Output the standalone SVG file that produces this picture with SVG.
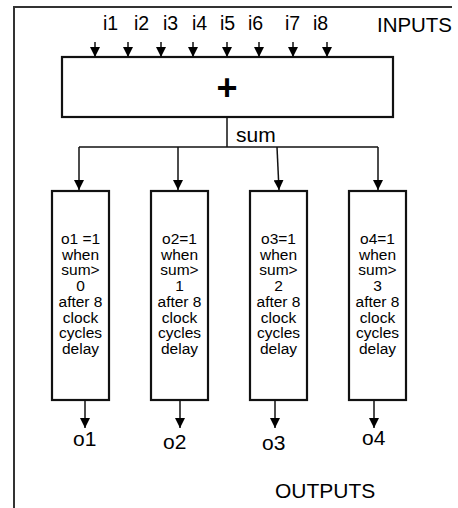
<svg xmlns="http://www.w3.org/2000/svg" width="458" height="508" viewBox="0 0 458 508">
<style>
text{font-family:"Liberation Sans",Arial,sans-serif;fill:#000}
.lbl{font-size:19.5px}
.big{font-size:21px}
.box{fill:#fff;stroke:#111;stroke-width:2.2}
.bt{font-size:15.5px;text-anchor:middle}
.c{stroke:#111;stroke-width:1.5;fill:none}
.frame{stroke:#333;stroke-width:2;fill:none}
</style>
<defs>
<marker id="ah" markerUnits="userSpaceOnUse" markerWidth="10" markerHeight="10" refX="10" refY="5" orient="auto">
<path d="M0,0 L10,5 L0,10 z" fill="#000"/>
</marker>
</defs>
<polyline class="frame" points="14,508 14,7 452,7"/>
<text class="lbl" x="377" y="32" textLength="75" lengthAdjust="spacingAndGlyphs">INPUTS</text>
<text class="lbl" x="103" y="30">i1</text>
<text class="lbl" x="134" y="30">i2</text>
<text class="lbl" x="163" y="30">i3</text>
<text class="lbl" x="192" y="30">i4</text>
<text class="lbl" x="220" y="30">i5</text>
<text class="lbl" x="248" y="30">i6</text>
<text class="lbl" x="285" y="30">i7</text>
<text class="lbl" x="313" y="30">i8</text>
<g id="adder">
<rect class="box" x="62" y="57" width="331" height="60"/>
<text x="227" y="100" font-size="36" font-weight="bold" text-anchor="middle">+</text>
</g>
<g id="cmp1">
<rect class="box" x="52" y="191" width="57" height="209"/>
<text class="bt" y="244"><tspan x="80.5">o1 =1</tspan><tspan x="80.5" dy="15.7">when</tspan><tspan x="80.5" dy="15.7">sum&gt;</tspan><tspan x="80.5" dy="15.7">0</tspan><tspan x="80.5" dy="15.7">after 8</tspan><tspan x="80.5" dy="15.7">clock</tspan><tspan x="80.5" dy="15.7">cycles</tspan><tspan x="80.5" dy="15.7">delay</tspan></text>
</g>
<g id="cmp2">
<rect class="box" x="151" y="191" width="57" height="209"/>
<text class="bt" y="244"><tspan x="179.5">o2=1</tspan><tspan x="179.5" dy="15.7">when</tspan><tspan x="179.5" dy="15.7">sum&gt;</tspan><tspan x="179.5" dy="15.7">1</tspan><tspan x="179.5" dy="15.7">after 8</tspan><tspan x="179.5" dy="15.7">clock</tspan><tspan x="179.5" dy="15.7">cycles</tspan><tspan x="179.5" dy="15.7">delay</tspan></text>
</g>
<g id="cmp3">
<rect class="box" x="250" y="191" width="57" height="209"/>
<text class="bt" y="244"><tspan x="278.5">o3=1</tspan><tspan x="278.5" dy="15.7">when</tspan><tspan x="278.5" dy="15.7">sum&gt;</tspan><tspan x="278.5" dy="15.7">2</tspan><tspan x="278.5" dy="15.7">after 8</tspan><tspan x="278.5" dy="15.7">clock</tspan><tspan x="278.5" dy="15.7">cycles</tspan><tspan x="278.5" dy="15.7">delay</tspan></text>
</g>
<g id="cmp4">
<rect class="box" x="349" y="191" width="57" height="209"/>
<text class="bt" y="244"><tspan x="377.5">o4=1</tspan><tspan x="377.5" dy="15.7">when</tspan><tspan x="377.5" dy="15.7">sum&gt;</tspan><tspan x="377.5" dy="15.7">3</tspan><tspan x="377.5" dy="15.7">after 8</tspan><tspan x="377.5" dy="15.7">clock</tspan><tspan x="377.5" dy="15.7">cycles</tspan><tspan x="377.5" dy="15.7">delay</tspan></text>
</g>
<g id="connectors">
<line class="c" x1="95" y1="42" x2="95" y2="57" marker-end="url(#ah)"/>
<line class="c" x1="128" y1="42" x2="128" y2="57" marker-end="url(#ah)"/>
<line class="c" x1="161" y1="42" x2="161" y2="57" marker-end="url(#ah)"/>
<line class="c" x1="193" y1="42" x2="193" y2="57" marker-end="url(#ah)"/>
<line class="c" x1="227" y1="42" x2="227" y2="57" marker-end="url(#ah)"/>
<line class="c" x1="259" y1="42" x2="259" y2="57" marker-end="url(#ah)"/>
<line class="c" x1="293" y1="42" x2="293" y2="57" marker-end="url(#ah)"/>
<line class="c" x1="327" y1="42" x2="327" y2="57" marker-end="url(#ah)"/>
<line class="c" x1="227" y1="117" x2="227" y2="147"/>
<line class="c" x1="79" y1="147" x2="378" y2="147" stroke-width="1.2"/>
<line class="c" x1="79" y1="147" x2="79" y2="190" stroke-width="2" marker-end="url(#ah)"/>
<line class="c" x1="178" y1="147" x2="178" y2="190" stroke-width="2" marker-end="url(#ah)"/>
<line class="c" x1="277" y1="147" x2="279" y2="190" stroke-width="2" marker-end="url(#ah)"/>
<line class="c" x1="378" y1="147" x2="378" y2="190" stroke="#555" stroke-width="1.2" marker-end="url(#ah)"/>
<line class="c" x1="85" y1="400" x2="85" y2="428" marker-end="url(#ah)"/>
<line class="c" x1="180" y1="400" x2="180" y2="428" marker-end="url(#ah)"/>
<line class="c" x1="275" y1="400" x2="275" y2="428" marker-end="url(#ah)"/>
<line class="c" x1="374" y1="400" x2="374" y2="428" marker-end="url(#ah)"/>
</g>
<text class="big" x="236" y="142">sum</text>
<text class="big" x="73" y="446">o1</text>
<text class="big" x="163" y="449">o2</text>
<text class="big" x="262" y="450">o3</text>
<text class="big" x="362" y="445">o4</text>
<text class="big" x="275" y="498">OUTPUTS</text>
</svg>
